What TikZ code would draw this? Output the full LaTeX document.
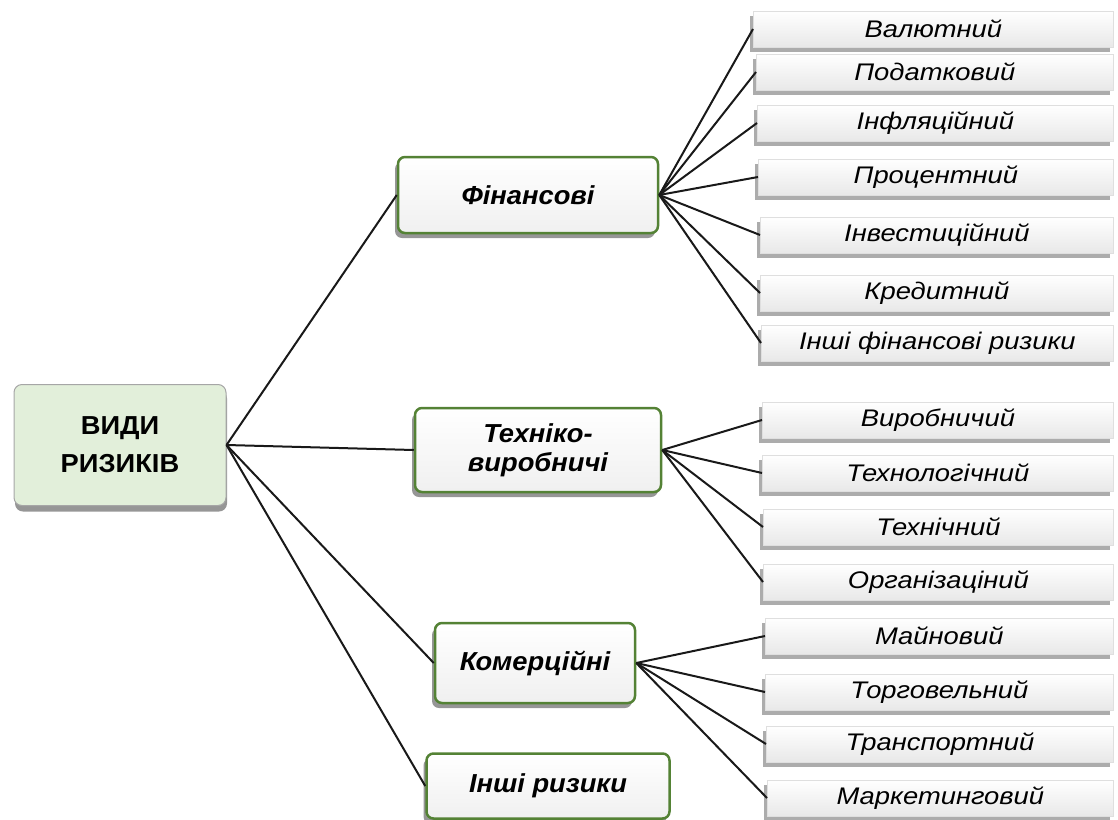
\documentclass[tikz,border=0pt]{standalone}
\usepackage{fontspec}
\setmainfont{Liberation Sans}
\newfontfamily\leaffont[FakeStretch=1.14]{Liberation Sans}
\newfontfamily\kindfont[FakeStretch=1.05]{Liberation Sans}
\usetikzlibrary{positioning}
\usetikzlibrary{shadows}

\definecolor{rootfill}{RGB}{226,239,218}
\definecolor{kindgreen}{RGB}{84,130,53}
\definecolor{shadowgray}{RGB}{150,150,150}

\tikzset{
  rootbox/.style={draw=gray!70,line width=1pt,rounded corners=8pt,fill=rootfill,
    minimum width=212pt,minimum height=121pt,inner sep=0pt,align=center,
    font=\kindfont\fontsize{26}{38}\selectfont\bfseries,
    drop shadow={shadow xshift=1pt,shadow yshift=-6pt,fill=shadowgray,opacity=1}},
  kindbox/.style={draw=kindgreen,line width=2.5pt,rounded corners=7pt,
    top color=white,bottom color=gray!12,inner sep=0pt,align=center,
    font=\kindfont\fontsize{26}{29}\selectfont\bfseries\itshape,
    drop shadow={shadow xshift=-3pt,shadow yshift=-5pt,fill=shadowgray,opacity=1}},
  leafbox/.style={draw=gray!25,line width=0.8pt,top color=white,bottom color=gray!18,
    minimum height=36pt,inner sep=0pt,anchor=west,
    font=\leaffont\fontsize{24}{27}\selectfont\itshape,
    drop shadow={shadow xshift=-3pt,shadow yshift=-5pt,fill=gray!65,opacity=1}},
  link/.style={line width=2pt,black!90}
}

\begin{document}
\begin{tikzpicture}[x=1pt,y=-1pt]
\useasboundingbox (0,0) rectangle (1118,819);

% root
\node[rootbox] (root) at (120,445) {ВИДИ\\РИЗИКІВ};

% kinds of risk
\node[kindbox,minimum width=260pt,minimum height=76pt] (fin) at (528,195) {Фінансові};
\node[kindbox,minimum width=246pt,minimum height=84pt] (tech) at (538,450) {Техніко-\\виробничі};
\node[kindbox,minimum width=200pt,minimum height=80pt] (com) at (535,663) {Комерційні};
\node[kindbox,minimum width=243pt,minimum height=65pt] (other) at (548,786) {Інші ризики};

% financial
\node[leafbox,minimum width=360pt] (f1) at (753,29) {Валютний};
\node[leafbox,minimum width=357pt] (f2) at (756,72) {Податковий};
\node[leafbox,minimum width=356pt] (f3) at (757,123) {Інфляційний};
\node[leafbox,minimum width=355pt] (f4) at (758,177) {Процентний};
\node[leafbox,minimum width=353pt] (f5) at (760,235) {Інвестиційний};
\node[leafbox,minimum width=353pt] (f6) at (760,293) {Кредитний};
\node[leafbox,minimum width=352pt] (f7) at (761,343) {Інші фінансові ризики};

% technical
\node[leafbox,minimum width=351pt] (t1) at (762,420) {Виробничий};
\node[leafbox,minimum width=351pt] (t2) at (762,473) {Технологічний};
\node[leafbox,minimum width=350pt] (t3) at (763,527) {Технічний};
\node[leafbox,minimum width=350pt] (t4) at (763,582) {Організаціний};

% commercial
\node[leafbox,minimum width=348pt] (c1) at (765,636) {Майновий};
\node[leafbox,minimum width=348pt] (c2) at (765,692) {Торговельний};
\node[leafbox,minimum width=347pt] (c3) at (766,744) {Транспортний};
\node[leafbox,minimum width=346pt] (c4) at (767,798) {Маркетинговий};

\draw[link] (root.east) -- (fin.west);
\draw[link] (root.east) -- (tech.west);
\draw[link] (root.east) -- (com.west);
\draw[link] (root.east) -- (other.west);

\draw[link] (fin.east) -- (f1.west);
\draw[link] (fin.east) -- (f2.west);
\draw[link] (fin.east) -- (f3.west);
\draw[link] (fin.east) -- (f4.west);
\draw[link] (fin.east) -- (f5.west);
\draw[link] (fin.east) -- (f6.west);
\draw[link] (fin.east) -- (f7.west);

\draw[link] (tech.east) -- (t1.west);
\draw[link] (tech.east) -- (t2.west);
\draw[link] (tech.east) -- (t3.west);
\draw[link] (tech.east) -- (t4.west);

\draw[link] (com.east) -- (c1.west);
\draw[link] (com.east) -- (c2.west);
\draw[link] (com.east) -- (c3.west);
\draw[link] (com.east) -- (c4.west);

\end{tikzpicture}
\end{document}
